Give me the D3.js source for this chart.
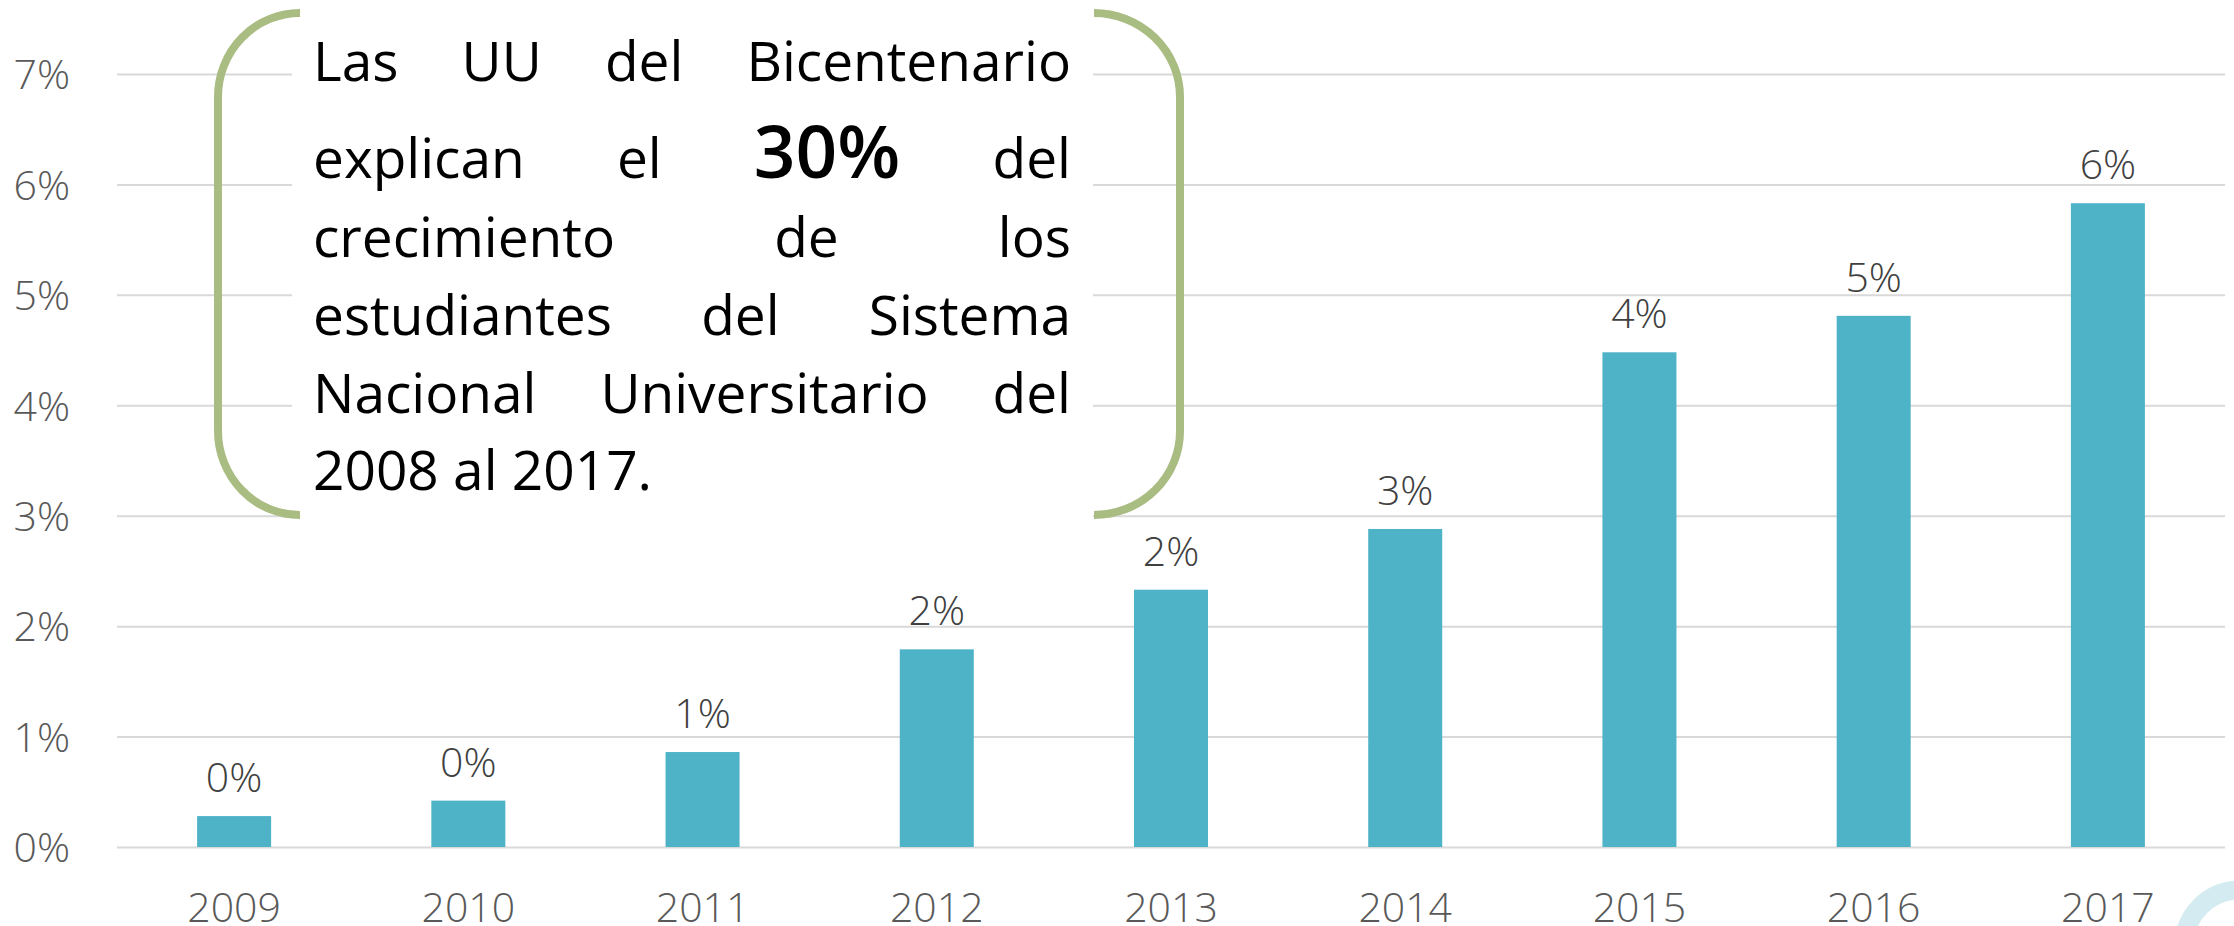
<!DOCTYPE html>
<html>
<head>
<meta charset="utf-8">
<script src="https://cdn.jsdelivr.net/npm/d3@7"></script>
<style>
  html, body { margin: 0; padding: 0; background: #ffffff; }
  svg { display: block; }
  .axis text { font-family: "Open Sans", sans-serif; font-weight: 300; fill: #595959; }
</style>
</head>
<body>
<svg id="chart"></svg>
<script>
// Data
var years = ["2009", "2010", "2011", "2012", "2013", "2014", "2015", "2016", "2017"];
var shares = [0.28, 0.42, 0.86, 1.79, 2.33, 2.88, 4.48, 4.81, 5.83];
var yTicks = [0, 1, 2, 3, 4, 5, 6, 7];

// Callout text, one array per line (justified)
var noteLines = [
  ["Las", "UU", "del", "Bicentenario"],
  ["explican", "el", "30%", "del"],
  ["crecimiento", "de", "los"],
  ["estudiantes", "del", "Sistema"],
  ["Nacional", "Universitario", "del"],
  ["2008 al 2017."]
];
var noteBaselines = [81, 178, 257, 335, 413, 490];

// Set up the SVG dimensions and margins
var svgWidth = 2234;
var svgHeight = 926;
var margin = { top: 74, right: 9, bottom: 79, left: 117 };
var chartWidth = svgWidth - margin.left - margin.right;
var chartHeight = svgHeight - margin.top - margin.bottom;

var svg = d3.select("#chart")
  .attr("width", svgWidth)
  .attr("height", svgHeight);

var chart = svg.append("g")
  .attr("transform", "translate(" + margin.left + "," + margin.top + ")");

// Scales
var xScale = d3.scaleBand()
  .domain(years)
  .range([0, chartWidth])
  .paddingInner(0.684)
  .paddingOuter(0.342);

var yScale = d3.scaleLinear()
  .domain([0, 7])
  .range([chartHeight, 0]);

// Gridlines + y labels
var yAxis = chart.append("g")
  .attr("class", "axis")
  .call(d3.axisLeft(yScale)
    .tickValues(yTicks)
    .tickSize(-chartWidth)
    .tickPadding(47)
    .tickFormat(function (d) { return d + "%"; }));
yAxis.select(".domain").remove();
yAxis.selectAll(".tick line")
  .attr("stroke", "#d9d9d9")
  .attr("stroke-width", 2);
yAxis.selectAll(".tick text")
  .style("font-size", "41px")
  .attr("dy", "0.36em");

// x labels
var xAxis = chart.append("g")
  .attr("class", "axis")
  .attr("transform", "translate(0," + chartHeight + ")")
  .call(d3.axisBottom(xScale).tickSize(0).tickPadding(0));
xAxis.select(".domain").remove();
xAxis.selectAll(".tick text")
  .style("font-size", "41px")
  .attr("dy", "0")
  .attr("y", 75);

// Bars
chart.selectAll(".bar")
  .data(shares)
  .enter()
  .append("rect")
  .attr("class", "bar")
  .attr("x", function (d, i) { return xScale(years[i]); })
  .attr("y", function (d) { return yScale(d); })
  .attr("width", xScale.bandwidth())
  .attr("height", function (d) { return chartHeight - yScale(d); })
  .attr("fill", "#4fb3c8");

// Value labels
chart.selectAll(".bar-value")
  .data(shares)
  .enter()
  .append("text")
  .attr("class", "bar-value")
  .attr("x", function (d, i) { return xScale(years[i]) + xScale.bandwidth() / 2; })
  .attr("y", function (d) { return yScale(d) - 24; })
  .attr("text-anchor", "middle")
  .style("font-family", "'Open Sans', sans-serif")
  .style("font-weight", 300)
  .style("font-size", "41px")
  .attr("fill", "#404040")
  .text(function (d) { return Math.round(d) + "%"; });

// Callout box: white backing hides the gridlines
var note = svg.append("g").attr("class", "note");
note.append("rect")
  .attr("x", 292)
  .attr("y", 8)
  .attr("width", 1093 - 292)
  .attr("height", 516)
  .attr("fill", "#ffffff");

// Rounded brackets
var r = 84;
note.append("path")
  .attr("d", "M300,13 A82," + r + " 0 0 0 218," + (13 + r) +
    " L218," + (515 - r) + " A82," + r + " 0 0 0 300,515")
  .attr("fill", "none")
  .attr("stroke", "#a9bc82")
  .attr("stroke-width", 8);
note.append("path")
  .attr("d", "M1094,13 A86," + r + " 0 0 1 1180," + (13 + r) +
    " L1180," + (515 - r) + " A86," + r + " 0 0 1 1094,515")
  .attr("fill", "none")
  .attr("stroke", "#a9bc82")
  .attr("stroke-width", 8);

// Justified text lines
var textLeft = 313;
var textRight = 1071;
noteLines.forEach(function (words, li) {
  var nodes = words.map(function (w) {
    var big = w === "30%";
    return note.append("text")
      .attr("y", noteBaselines[li])
      .style("font-family", "'Open Sans', sans-serif")
      .style("font-weight", big ? 600 : 400)
      .style("font-size", big ? "73px" : "55px")
      .attr("fill", "#000000")
      .text(w);
  });
  var widths = nodes.map(function (n) { return n.node().getComputedTextLength(); });
  var total = d3.sum(widths);
  var gap = words.length > 1 && li < noteLines.length - 1 ?
    (textRight - textLeft - total) / (words.length - 1) : 0;
  var x = textLeft;
  nodes.forEach(function (n, i) {
    n.attr("x", x);
    x += widths[i] + gap;
  });
});

// Corner decoration (partial ring)
svg.append("circle")
  .attr("cx", 2240)
  .attr("cy", 946)
  .attr("r", 56)
  .attr("fill", "none")
  .attr("stroke", "#d3ebf1")
  .attr("stroke-width", 19);
</script>
</body>
</html>
